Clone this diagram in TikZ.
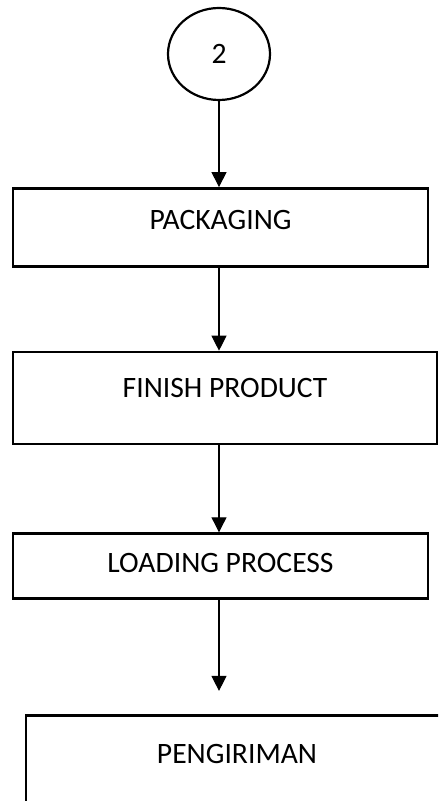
\documentclass[tikz,border=0pt]{standalone}
\usepackage{fontspec}
\setmainfont{Carlito}
\usepackage{tikz}
\usetikzlibrary{positioning,shapes.geometric,arrows.meta}

\begin{document}
\begin{tikzpicture}%[box/.style={rectangle,draw},node distance=40pt]
          \tikzstyle{conn} = [ellipse, draw, line width=1.1pt, minimum width=51pt, minimum height=46pt, font=\fontsize{14.8}{17}\selectfont]
          \tikzstyle{box} = [rectangle, draw, line width=1.3pt, inner sep=0pt, font=\fontsize{14.8}{17}\selectfont]
          \tikzstyle{arr} = [-{Triangle[length=7.5pt,width=7.5pt]}, line width=0.55pt]
        \useasboundingbox (0,0) rectangle (219pt,-400.5pt);
        \clip (0,0) rectangle (219pt,-400.5pt);
        \node[conn] (c2) at (109.5pt,-27pt) {2};
        \node[box, minimum width=207.5pt, text height=20.5pt, text depth=18.5pt] (pack) [below=43pt of c2, xshift=0.75pt] {PACKAGING};
        \node[box, minimum width=212pt, text height=22.5pt, text depth=23.5pt] (fin) [below=41.5pt of pack, xshift=2.25pt] {FINISH PRODUCT};
        \node[box, minimum width=207.5pt, text height=19.5pt, text depth=13pt] (load) [below=43.5pt of fin, xshift=-2.25pt] {LOADING PROCESS};
        \node[box, minimum width=211pt, text height=24pt, text depth=35pt] (kirim) [below=57pt of load, xshift=8.25pt] {PENGIRIMAN};
        \begin{scope}
          \draw[arr] (c2.south) -- (c2.south |- pack.north);
          \draw[arr] (pack.south -| c2.south) -- (fin.north -| c2.south);
          \draw[arr] (fin.south -| c2.south) -- (load.north -| c2.south);
          \draw[arr, shorten >=11.5pt] (load.south -| c2.south) -- (kirim.north -| c2.south);
        \end{scope}
      \end{tikzpicture}
\end{document}
